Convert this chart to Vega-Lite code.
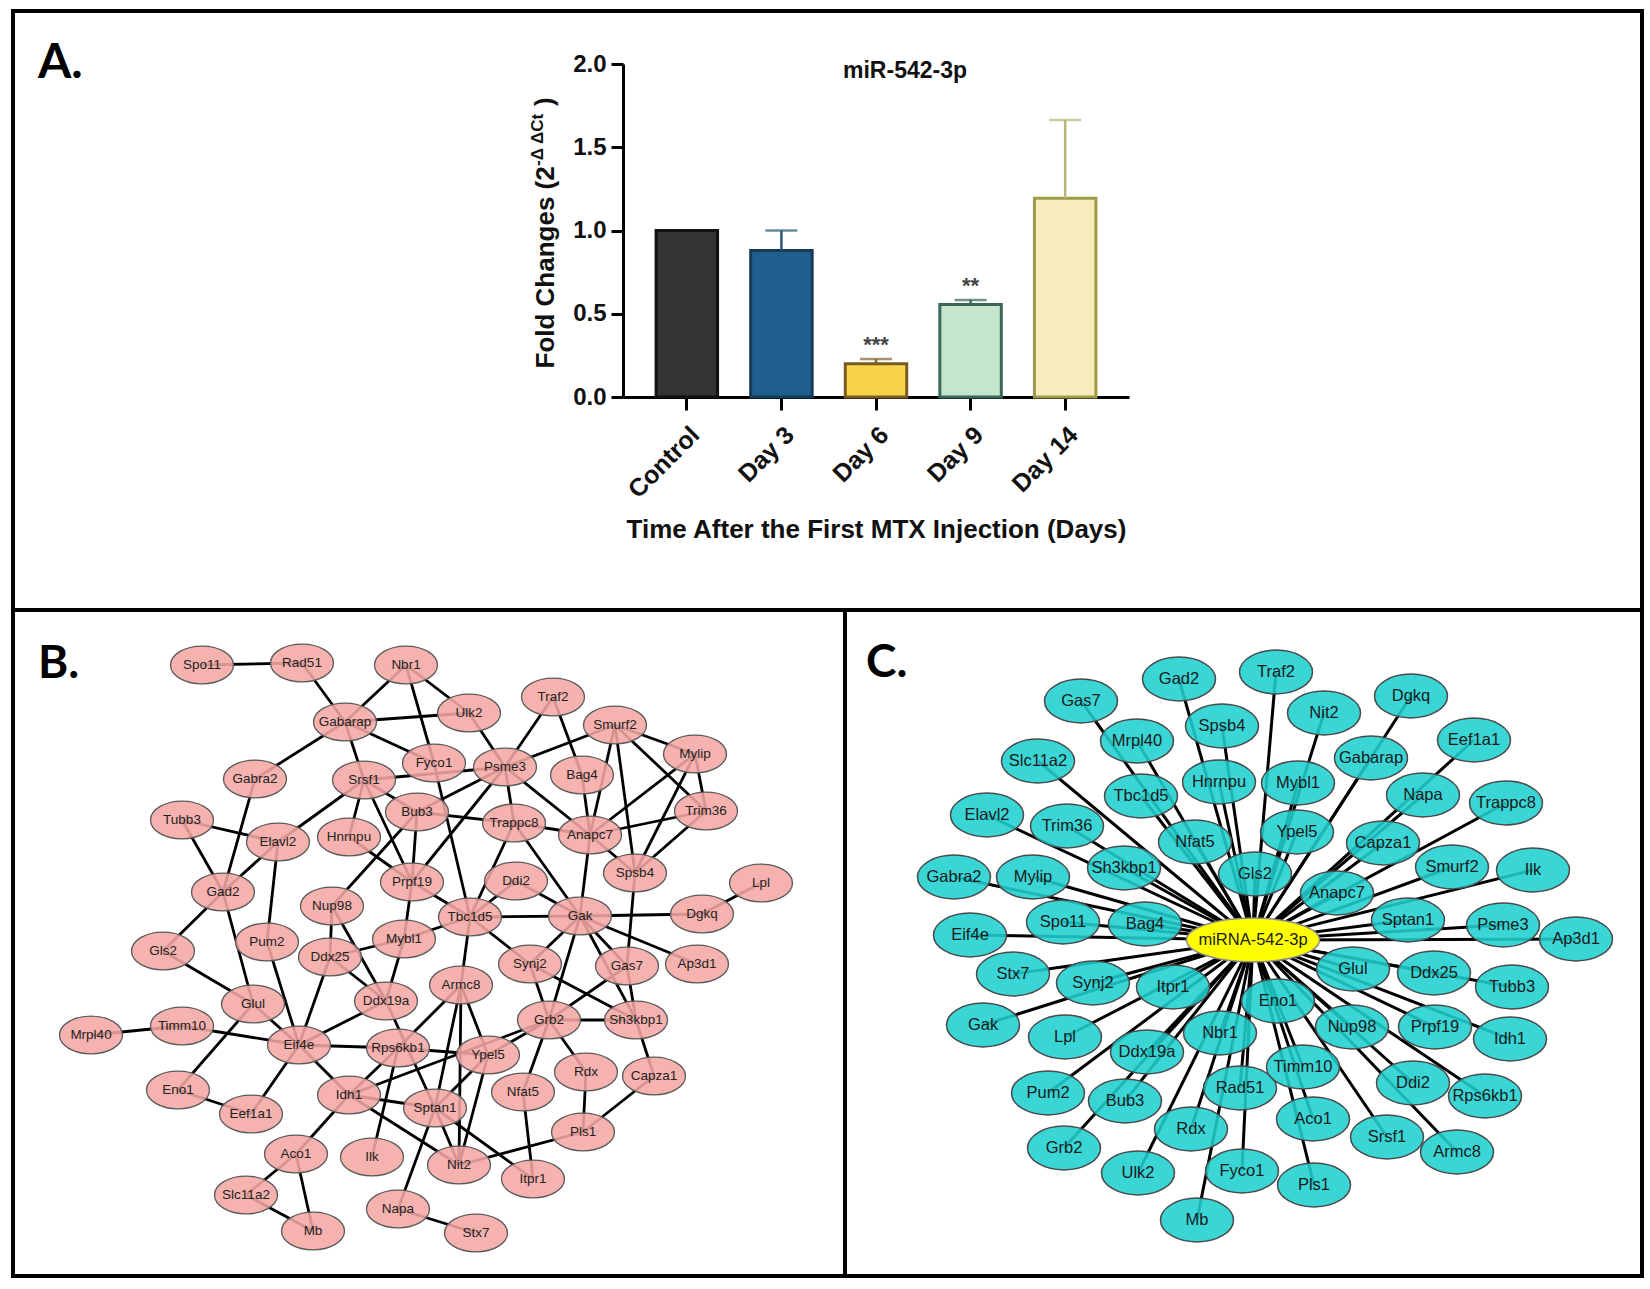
{
  "$schema": "https://vega.github.io/schema/vega-lite/v6.json",
  "width": 1650,
  "height": 1289,
  "autosize": {"type": "none"},
  "padding": 0,
  "background": "white",
  "config": {"view": {"stroke": null}},
  "datasets": {
    "bars": [
      {"group": "Control", "value": 1.0, "upper": null, "stars": ""},
      {"group": "Day 3", "value": 0.88, "upper": 1.0, "stars": ""},
      {"group": "Day 6", "value": 0.2, "upper": 0.228, "stars": "***"},
      {"group": "Day 9", "value": 0.555, "upper": 0.583, "stars": "**"},
      {"group": "Day 14", "value": 1.193, "upper": 1.664, "stars": ""}
    ],
    "nodesB": [
      {"id": "Spo11", "x": 202, "y": 665}, {"id": "Rad51", "x": 302, "y": 663}, {"id": "Nbr1", "x": 406, "y": 665},
      {"id": "Gabarap", "x": 345, "y": 722}, {"id": "Ulk2", "x": 469, "y": 713}, {"id": "Traf2", "x": 553, "y": 697},
      {"id": "Smurf2", "x": 615, "y": 725}, {"id": "Mylip", "x": 695, "y": 754}, {"id": "Gabra2", "x": 255, "y": 779},
      {"id": "Srsf1", "x": 364, "y": 780}, {"id": "Fyco1", "x": 434, "y": 763}, {"id": "Psme3", "x": 505, "y": 767},
      {"id": "Bag4", "x": 582, "y": 775}, {"id": "Trim36", "x": 706, "y": 811}, {"id": "Tubb3", "x": 182, "y": 820},
      {"id": "Elavl2", "x": 278, "y": 842}, {"id": "Hnrnpu", "x": 349, "y": 837}, {"id": "Bub3", "x": 417, "y": 812},
      {"id": "Trappc8", "x": 514, "y": 823}, {"id": "Anapc7", "x": 590, "y": 835}, {"id": "Gad2", "x": 223, "y": 892},
      {"id": "Prpf19", "x": 412, "y": 882}, {"id": "Ddi2", "x": 516, "y": 881}, {"id": "Spsb4", "x": 635, "y": 873},
      {"id": "Lpl", "x": 761, "y": 883}, {"id": "Nup98", "x": 332, "y": 906}, {"id": "Tbc1d5", "x": 470, "y": 917},
      {"id": "Gak", "x": 580, "y": 916}, {"id": "Dgkq", "x": 702, "y": 914}, {"id": "Gls2", "x": 163, "y": 951},
      {"id": "Pum2", "x": 267, "y": 942}, {"id": "Ddx25", "x": 330, "y": 957}, {"id": "Mybl1", "x": 404, "y": 939},
      {"id": "Synj2", "x": 530, "y": 964}, {"id": "Gas7", "x": 627, "y": 966}, {"id": "Ap3d1", "x": 697, "y": 964},
      {"id": "Glul", "x": 253, "y": 1004}, {"id": "Ddx19a", "x": 386, "y": 1001}, {"id": "Armc8", "x": 461, "y": 985},
      {"id": "Grb2", "x": 549, "y": 1020}, {"id": "Sh3kbp1", "x": 636, "y": 1020}, {"id": "Mrpl40", "x": 91, "y": 1035},
      {"id": "Timm10", "x": 182, "y": 1026}, {"id": "Eif4e", "x": 299, "y": 1045}, {"id": "Rps6kb1", "x": 398, "y": 1048},
      {"id": "Ypel5", "x": 488, "y": 1055}, {"id": "Rdx", "x": 586, "y": 1072}, {"id": "Capza1", "x": 654, "y": 1076},
      {"id": "Eno1", "x": 178, "y": 1090}, {"id": "Eef1a1", "x": 251, "y": 1114}, {"id": "Idh1", "x": 349, "y": 1095},
      {"id": "Sptan1", "x": 435, "y": 1108}, {"id": "Nfat5", "x": 523, "y": 1092}, {"id": "Pls1", "x": 583, "y": 1132},
      {"id": "Aco1", "x": 296, "y": 1154}, {"id": "Ilk", "x": 372, "y": 1157}, {"id": "Nit2", "x": 459, "y": 1165},
      {"id": "Itpr1", "x": 533, "y": 1179}, {"id": "Slc11a2", "x": 246, "y": 1195}, {"id": "Mb", "x": 313, "y": 1231},
      {"id": "Napa", "x": 398, "y": 1209}, {"id": "Stx7", "x": 476, "y": 1233}
    ],
    "edgesB": [
      {"s": "Spo11", "t": "Rad51"}, {"s": "Rad51", "t": "Gabarap"}, {"s": "Nbr1", "t": "Gabarap"}, {"s": "Nbr1", "t": "Ulk2"},
      {"s": "Nbr1", "t": "Fyco1"}, {"s": "Gabarap", "t": "Ulk2"}, {"s": "Gabarap", "t": "Fyco1"}, {"s": "Gabarap", "t": "Gabra2"},
      {"s": "Gabarap", "t": "Srsf1"}, {"s": "Srsf1", "t": "Psme3"}, {"s": "Srsf1", "t": "Elavl2"}, {"s": "Srsf1", "t": "Hnrnpu"},
      {"s": "Srsf1", "t": "Bub3"}, {"s": "Srsf1", "t": "Prpf19"}, {"s": "Fyco1", "t": "Tbc1d5"}, {"s": "Ulk2", "t": "Psme3"},
      {"s": "Traf2", "t": "Psme3"}, {"s": "Traf2", "t": "Bag4"}, {"s": "Smurf2", "t": "Psme3"}, {"s": "Smurf2", "t": "Mylip"},
      {"s": "Smurf2", "t": "Trim36"}, {"s": "Smurf2", "t": "Anapc7"}, {"s": "Smurf2", "t": "Spsb4"}, {"s": "Mylip", "t": "Trim36"},
      {"s": "Mylip", "t": "Anapc7"}, {"s": "Mylip", "t": "Spsb4"}, {"s": "Trim36", "t": "Anapc7"}, {"s": "Trim36", "t": "Spsb4"},
      {"s": "Bag4", "t": "Anapc7"}, {"s": "Psme3", "t": "Anapc7"}, {"s": "Psme3", "t": "Trappc8"}, {"s": "Psme3", "t": "Bub3"},
      {"s": "Psme3", "t": "Prpf19"}, {"s": "Bub3", "t": "Trappc8"}, {"s": "Bub3", "t": "Nup98"}, {"s": "Bub3", "t": "Prpf19"},
      {"s": "Trappc8", "t": "Anapc7"}, {"s": "Trappc8", "t": "Tbc1d5"}, {"s": "Trappc8", "t": "Gak"}, {"s": "Anapc7", "t": "Spsb4"},
      {"s": "Anapc7", "t": "Gak"}, {"s": "Spsb4", "t": "Gas7"}, {"s": "Tubb3", "t": "Elavl2"}, {"s": "Tubb3", "t": "Gad2"},
      {"s": "Gabra2", "t": "Gad2"}, {"s": "Elavl2", "t": "Gad2"}, {"s": "Elavl2", "t": "Pum2"}, {"s": "Hnrnpu", "t": "Prpf19"},
      {"s": "Prpf19", "t": "Tbc1d5"}, {"s": "Prpf19", "t": "Mybl1"}, {"s": "Gad2", "t": "Gls2"}, {"s": "Gad2", "t": "Glul"},
      {"s": "Nup98", "t": "Ddx25"}, {"s": "Nup98", "t": "Ddx19a"}, {"s": "Ddx25", "t": "Mybl1"}, {"s": "Ddx25", "t": "Eif4e"},
      {"s": "Ddx25", "t": "Ddx19a"}, {"s": "Mybl1", "t": "Ddx19a"}, {"s": "Mybl1", "t": "Tbc1d5"}, {"s": "Ddi2", "t": "Tbc1d5"},
      {"s": "Ddi2", "t": "Gak"}, {"s": "Tbc1d5", "t": "Gak"}, {"s": "Tbc1d5", "t": "Synj2"}, {"s": "Tbc1d5", "t": "Armc8"},
      {"s": "Gak", "t": "Dgkq"}, {"s": "Gak", "t": "Synj2"}, {"s": "Gak", "t": "Grb2"}, {"s": "Gak", "t": "Gas7"},
      {"s": "Gak", "t": "Sh3kbp1"}, {"s": "Gak", "t": "Ap3d1"}, {"s": "Dgkq", "t": "Lpl"}, {"s": "Synj2", "t": "Grb2"},
      {"s": "Synj2", "t": "Sh3kbp1"}, {"s": "Gas7", "t": "Grb2"}, {"s": "Gas7", "t": "Sh3kbp1"}, {"s": "Grb2", "t": "Sh3kbp1"},
      {"s": "Grb2", "t": "Rdx"}, {"s": "Grb2", "t": "Nfat5"}, {"s": "Grb2", "t": "Ypel5"}, {"s": "Grb2", "t": "Idh1"},
      {"s": "Sh3kbp1", "t": "Capza1"}, {"s": "Capza1", "t": "Pls1"}, {"s": "Rdx", "t": "Pls1"}, {"s": "Pls1", "t": "Nit2"},
      {"s": "Nfat5", "t": "Itpr1"}, {"s": "Gls2", "t": "Glul"}, {"s": "Pum2", "t": "Eif4e"}, {"s": "Glul", "t": "Eif4e"},
      {"s": "Glul", "t": "Eno1"}, {"s": "Timm10", "t": "Mrpl40"}, {"s": "Timm10", "t": "Eif4e"}, {"s": "Eno1", "t": "Eef1a1"},
      {"s": "Eif4e", "t": "Eef1a1"}, {"s": "Eif4e", "t": "Ddx19a"}, {"s": "Eif4e", "t": "Rps6kb1"}, {"s": "Eif4e", "t": "Idh1"},
      {"s": "Ddx19a", "t": "Sptan1"}, {"s": "Idh1", "t": "Rps6kb1"}, {"s": "Idh1", "t": "Sptan1"}, {"s": "Idh1", "t": "Nit2"},
      {"s": "Idh1", "t": "Aco1"}, {"s": "Aco1", "t": "Slc11a2"}, {"s": "Aco1", "t": "Mb"}, {"s": "Slc11a2", "t": "Mb"},
      {"s": "Rps6kb1", "t": "Ilk"}, {"s": "Rps6kb1", "t": "Armc8"}, {"s": "Rps6kb1", "t": "Ypel5"}, {"s": "Armc8", "t": "Sptan1"},
      {"s": "Armc8", "t": "Nit2"}, {"s": "Armc8", "t": "Ypel5"}, {"s": "Ypel5", "t": "Nit2"}, {"s": "Ypel5", "t": "Sptan1"},
      {"s": "Sptan1", "t": "Nit2"}, {"s": "Sptan1", "t": "Itpr1"}, {"s": "Sptan1", "t": "Napa"}, {"s": "Napa", "t": "Stx7"}
    ],
    "nodesC": [
      {"id": "Gad2", "x": 1179, "y": 679}, {"id": "Gas7", "x": 1081, "y": 701}, {"id": "Spsb4", "x": 1222, "y": 726},
      {"id": "Mrpl40", "x": 1137, "y": 741}, {"id": "Slc11a2", "x": 1038, "y": 761}, {"id": "Hnrnpu", "x": 1219, "y": 782},
      {"id": "Tbc1d5", "x": 1141, "y": 796}, {"id": "Elavl2", "x": 987, "y": 815}, {"id": "Trim36", "x": 1067, "y": 826},
      {"id": "Nfat5", "x": 1195, "y": 842}, {"id": "Sh3kbp1", "x": 1124, "y": 868}, {"id": "Gabra2", "x": 954, "y": 877},
      {"id": "Mylip", "x": 1033, "y": 877}, {"id": "Spo11", "x": 1063, "y": 922}, {"id": "Bag4", "x": 1145, "y": 924},
      {"id": "Eif4e", "x": 970, "y": 935}, {"id": "Gls2", "x": 1255, "y": 874}, {"id": "Traf2", "x": 1276, "y": 672},
      {"id": "Dgkq", "x": 1411, "y": 696}, {"id": "Nit2", "x": 1324, "y": 713}, {"id": "Eef1a1", "x": 1474, "y": 740},
      {"id": "Gabarap", "x": 1371, "y": 758}, {"id": "Mybl1", "x": 1298, "y": 783}, {"id": "Napa", "x": 1423, "y": 795},
      {"id": "Trappc8", "x": 1506, "y": 803}, {"id": "Ypel5", "x": 1297, "y": 832}, {"id": "Capza1", "x": 1383, "y": 843},
      {"id": "Smurf2", "x": 1452, "y": 867}, {"id": "Ilk", "x": 1533, "y": 870}, {"id": "Anapc7", "x": 1337, "y": 893},
      {"id": "Sptan1", "x": 1408, "y": 920}, {"id": "Psme3", "x": 1503, "y": 925}, {"id": "Ap3d1", "x": 1576, "y": 939},
      {"id": "Stx7", "x": 1013, "y": 974}, {"id": "Synj2", "x": 1093, "y": 983}, {"id": "Itpr1", "x": 1173, "y": 987},
      {"id": "Gak", "x": 983, "y": 1025}, {"id": "Lpl", "x": 1065, "y": 1037}, {"id": "Nbr1", "x": 1220, "y": 1033},
      {"id": "Ddx19a", "x": 1147, "y": 1052}, {"id": "Pum2", "x": 1048, "y": 1093}, {"id": "Bub3", "x": 1125, "y": 1101},
      {"id": "Rad51", "x": 1240, "y": 1088}, {"id": "Rdx", "x": 1191, "y": 1129}, {"id": "Grb2", "x": 1064, "y": 1148},
      {"id": "Ulk2", "x": 1138, "y": 1173}, {"id": "Fyco1", "x": 1242, "y": 1171}, {"id": "Mb", "x": 1197, "y": 1220},
      {"id": "Glul", "x": 1353, "y": 969}, {"id": "Ddx25", "x": 1434, "y": 973}, {"id": "Tubb3", "x": 1512, "y": 987},
      {"id": "Eno1", "x": 1278, "y": 1001}, {"id": "Nup98", "x": 1352, "y": 1027}, {"id": "Prpf19", "x": 1435, "y": 1027},
      {"id": "Idh1", "x": 1510, "y": 1039}, {"id": "Timm10", "x": 1303, "y": 1067}, {"id": "Ddi2", "x": 1413, "y": 1083},
      {"id": "Rps6kb1", "x": 1485, "y": 1096}, {"id": "Aco1", "x": 1313, "y": 1119}, {"id": "Srsf1", "x": 1387, "y": 1137},
      {"id": "Armc8", "x": 1457, "y": 1152}, {"id": "Pls1", "x": 1314, "y": 1185}
    ],
    "hubC": [{"id": "miRNA-542-3p", "x": 1253, "y": 940}]
  },
  "layer": [
    {
      "layer": [
        {
          "data": {"values": [{}]},
          "mark": {"type": "rect", "fillOpacity": 0, "stroke": "black", "strokeWidth": 4},
          "encoding": {
            "x": {"datum": 13, "type": "quantitative", "scale": {"domain": [0, 1650], "nice": false, "zero": false}, "axis": null},
            "x2": {"datum": 1642},
            "y": {"datum": 11, "type": "quantitative", "scale": {"domain": [0, 1289], "nice": false, "zero": false, "reverse": true}, "axis": null},
            "y2": {"datum": 1276}
          }
        },
        {
          "data": {"values": [{}]},
          "mark": {"type": "rule", "color": "black", "strokeWidth": 4},
          "encoding": {
            "x": {"datum": 13, "type": "quantitative", "scale": {"domain": [0, 1650], "nice": false, "zero": false}, "axis": null},
            "x2": {"datum": 1642},
            "y": {"datum": 610, "type": "quantitative", "scale": {"domain": [0, 1289], "nice": false, "zero": false, "reverse": true}, "axis": null}
          }
        },
        {
          "data": {"values": [{}]},
          "mark": {"type": "rule", "color": "black", "strokeWidth": 4},
          "encoding": {
            "x": {"datum": 845, "type": "quantitative", "scale": {"domain": [0, 1650], "nice": false, "zero": false}, "axis": null},
            "y": {"datum": 610, "type": "quantitative", "scale": {"domain": [0, 1289], "nice": false, "zero": false, "reverse": true}, "axis": null},
            "y2": {"datum": 1276}
          }
        },
        {
          "data": {"name": "edgesB"},
          "transform": [
            {"lookup": "s", "from": {"data": {"name": "nodesB"}, "key": "id", "fields": ["x", "y"]}, "as": ["sx", "sy"]},
            {"lookup": "t", "from": {"data": {"name": "nodesB"}, "key": "id", "fields": ["x", "y"]}, "as": ["tx", "ty"]}
          ],
          "mark": {"type": "rule", "color": "black", "strokeWidth": 2.8},
          "encoding": {
            "x": {"field": "sx", "type": "quantitative", "scale": {"domain": [0, 1650], "nice": false, "zero": false}, "axis": null},
            "y": {"field": "sy", "type": "quantitative", "scale": {"domain": [0, 1289], "nice": false, "zero": false, "reverse": true}, "axis": null},
            "x2": {"field": "tx"},
            "y2": {"field": "ty"}
          }
        },
        {
          "data": {"name": "nodesB"},
          "mark": {"type": "point", "shape": "M-1,0C-1,-0.331,-0.552,-0.6,0,-0.6C0.552,-0.6,1,-0.331,1,0C1,0.331,0.552,0.6,0,0.6C-0.552,0.6,-1,0.331,-1,0Z", "size": 3969, "filled": true, "fill": "#f4a7a4", "fillOpacity": 0.88, "stroke": "#5a5a5a", "strokeWidth": 1.3, "strokeOpacity": 1, "opacity": 1},
          "encoding": {
            "x": {"field": "x", "type": "quantitative", "scale": {"domain": [0, 1650], "nice": false, "zero": false}, "axis": null},
            "y": {"field": "y", "type": "quantitative", "scale": {"domain": [0, 1289], "nice": false, "zero": false, "reverse": true}, "axis": null}
          }
        },
        {
          "data": {"name": "nodesB"},
          "mark": {"type": "text", "font": "Liberation Sans", "fontSize": 13.5, "color": "#222222", "align": "center", "baseline": "middle"},
          "encoding": {
            "x": {"field": "x", "type": "quantitative", "scale": {"domain": [0, 1650], "nice": false, "zero": false}, "axis": null},
            "y": {"field": "y", "type": "quantitative", "scale": {"domain": [0, 1289], "nice": false, "zero": false, "reverse": true}, "axis": null},
            "text": {"field": "id"}
          }
        },
        {
          "data": {"name": "nodesC"},
          "mark": {"type": "rule", "color": "black", "strokeWidth": 3},
          "encoding": {
            "x": {"field": "x", "type": "quantitative", "scale": {"domain": [0, 1650], "nice": false, "zero": false}, "axis": null},
            "y": {"field": "y", "type": "quantitative", "scale": {"domain": [0, 1289], "nice": false, "zero": false, "reverse": true}, "axis": null},
            "x2": {"datum": 1253},
            "y2": {"datum": 940}
          }
        },
        {
          "data": {"name": "nodesC"},
          "mark": {"type": "point", "shape": "M-1,0C-1,-0.331,-0.552,-0.6,0,-0.6C0.552,-0.6,1,-0.331,1,0C1,0.331,0.552,0.6,0,0.6C-0.552,0.6,-1,0.331,-1,0Z", "size": 5329, "filled": true, "fill": "#1fcfcf", "fillOpacity": 0.88, "stroke": "#4a4a4a", "strokeWidth": 1.5, "strokeOpacity": 1, "opacity": 1},
          "encoding": {
            "x": {"field": "x", "type": "quantitative", "scale": {"domain": [0, 1650], "nice": false, "zero": false}, "axis": null},
            "y": {"field": "y", "type": "quantitative", "scale": {"domain": [0, 1289], "nice": false, "zero": false, "reverse": true}, "axis": null}
          }
        },
        {
          "data": {"name": "hubC"},
          "mark": {"type": "point", "shape": "M-1,0C-1,-0.182,-0.552,-0.33,0,-0.33C0.552,-0.33,1,-0.182,1,0C1,0.182,0.552,0.33,0,0.33C-0.552,0.33,-1,0.182,-1,0Z", "size": 17689, "filled": true, "fill": "#ffff00", "fillOpacity": 1, "stroke": "#8a8a8a", "strokeWidth": 1.5, "opacity": 1},
          "encoding": {
            "x": {"field": "x", "type": "quantitative", "scale": {"domain": [0, 1650], "nice": false, "zero": false}, "axis": null},
            "y": {"field": "y", "type": "quantitative", "scale": {"domain": [0, 1289], "nice": false, "zero": false, "reverse": true}, "axis": null}
          }
        },
        {
          "data": {"name": "nodesC"},
          "mark": {"type": "text", "font": "Liberation Sans", "fontSize": 16.5, "color": "#1a1a1a", "align": "center", "baseline": "middle"},
          "encoding": {
            "x": {"field": "x", "type": "quantitative", "scale": {"domain": [0, 1650], "nice": false, "zero": false}, "axis": null},
            "y": {"field": "y", "type": "quantitative", "scale": {"domain": [0, 1289], "nice": false, "zero": false, "reverse": true}, "axis": null},
            "text": {"field": "id"}
          }
        },
        {
          "data": {"name": "hubC"},
          "mark": {"type": "text", "font": "Liberation Sans", "fontSize": 16.5, "color": "#1a1a1a", "align": "center", "baseline": "middle"},
          "encoding": {
            "x": {"field": "x", "type": "quantitative", "scale": {"domain": [0, 1650], "nice": false, "zero": false}, "axis": null},
            "y": {"field": "y", "type": "quantitative", "scale": {"domain": [0, 1289], "nice": false, "zero": false, "reverse": true}, "axis": null},
            "text": {"field": "id"}
          }
        },
        {
          "data": {"values": [{"label": "A."}]},
          "mark": {"type": "text", "font": "Lato", "fontWeight": "bold", "fontSize": 48, "color": "black", "align": "left", "baseline": "alphabetic"},
          "encoding": {
            "x": {"datum": 38, "type": "quantitative", "scale": {"domain": [0, 1650], "nice": false, "zero": false}, "axis": null},
            "y": {"datum": 78, "type": "quantitative", "scale": {"domain": [0, 1289], "nice": false, "zero": false, "reverse": true}, "axis": null},
            "text": {"field": "label"}
          }
        },
        {
          "data": {"values": [{"label": "B."}]},
          "mark": {"type": "text", "font": "Lato", "fontWeight": "bold", "fontSize": 46, "color": "black", "align": "left", "baseline": "alphabetic"},
          "encoding": {
            "x": {"datum": 38, "type": "quantitative", "scale": {"domain": [0, 1650], "nice": false, "zero": false}, "axis": null},
            "y": {"datum": 678, "type": "quantitative", "scale": {"domain": [0, 1289], "nice": false, "zero": false, "reverse": true}, "axis": null},
            "text": {"field": "label"}
          }
        },
        {
          "data": {"values": [{"label": "C."}]},
          "mark": {"type": "text", "font": "Lato", "fontWeight": "bold", "fontSize": 46, "color": "black", "align": "left", "baseline": "alphabetic"},
          "encoding": {
            "x": {"datum": 866, "type": "quantitative", "scale": {"domain": [0, 1650], "nice": false, "zero": false}, "axis": null},
            "y": {"datum": 677, "type": "quantitative", "scale": {"domain": [0, 1289], "nice": false, "zero": false, "reverse": true}, "axis": null},
            "text": {"field": "label"}
          }
        },
        {
          "data": {"values": [{"label": "miR-542-3p"}]},
          "mark": {"type": "text", "font": "Liberation Sans", "fontWeight": "bold", "fontSize": 23, "color": "#111111", "align": "center", "baseline": "alphabetic"},
          "encoding": {
            "x": {"datum": 905, "type": "quantitative", "scale": {"domain": [0, 1650], "nice": false, "zero": false}, "axis": null},
            "y": {"datum": 78, "type": "quantitative", "scale": {"domain": [0, 1289], "nice": false, "zero": false, "reverse": true}, "axis": null},
            "text": {"field": "label"}
          }
        },
        {
          "data": {"values": [{"label": "-Δ ΔCt"}]},
          "mark": {"type": "text", "font": "Liberation Sans", "fontWeight": "bold", "fontSize": 17, "color": "#111111", "align": "left", "baseline": "alphabetic", "angle": 270},
          "encoding": {
            "x": {"datum": 543, "type": "quantitative", "scale": {"domain": [0, 1650], "nice": false, "zero": false}, "axis": null},
            "y": {"datum": 166, "type": "quantitative", "scale": {"domain": [0, 1289], "nice": false, "zero": false, "reverse": true}, "axis": null},
            "text": {"field": "label"}
          }
        },
        {
          "data": {"values": [{"label": ")"}]},
          "mark": {"type": "text", "font": "Liberation Sans", "fontWeight": "bold", "fontSize": 26, "color": "#111111", "align": "left", "baseline": "alphabetic", "angle": 270},
          "encoding": {
            "x": {"datum": 553, "type": "quantitative", "scale": {"domain": [0, 1650], "nice": false, "zero": false}, "axis": null},
            "y": {"datum": 106, "type": "quantitative", "scale": {"domain": [0, 1289], "nice": false, "zero": false, "reverse": true}, "axis": null},
            "text": {"field": "label"}
          }
        }
      ]
    },
    {
      "data": {"name": "bars"},
      "layer": [
        {
          "mark": {"type": "bar", "strokeWidth": 3},
          "encoding": {
            "x": {
              "field": "group", "type": "nominal", "sort": null,
              "scale": {"domain": ["Control", "Day 3", "Day 6", "Day 9", "Day 14"], "range": [623, 1129], "paddingInner": 0.35, "paddingOuter": 0.35},
              "axis": {
                "title": "Time After the First MTX Injection (Days)", "titleFont": "Liberation Sans", "titleFontSize": 26, "titleFontWeight": "bold", "titleColor": "#111111",
                "titleX": 876, "titleY": 140, "titleAlign": "center", "titleBaseline": "alphabetic",
                "labelFont": "Liberation Sans", "labelFontSize": 25, "labelFontWeight": "bold", "labelColor": "#111111", "labelAngle": -45, "labelAlign": "right", "labelBaseline": "top", "labelPadding": 12, "labelOverlap": false,
                "tickSize": 13, "tickWidth": 3, "tickColor": "black", "domainColor": "black", "domainWidth": 3, "offset": -892, "grid": false
              }
            },
            "y": {
              "field": "value", "type": "quantitative",
              "scale": {"domain": [0, 2], "range": [397, 64], "nice": false, "zero": false},
              "axis": {
                "title": "Fold Changes (2", "titleFont": "Liberation Sans", "titleFontSize": 26, "titleFontWeight": "bold", "titleColor": "#111111",
                "titleAngle": 270, "titleX": -70, "titleY": 368, "titleAlign": "left", "titleBaseline": "alphabetic",
                "values": [0, 0.5, 1, 1.5, 2], "format": ".1f",
                "labelFont": "Liberation Sans", "labelFontSize": 24, "labelFontWeight": "bold", "labelColor": "#111111", "labelPadding": 5,
                "tickSize": 12, "tickWidth": 3, "tickColor": "black", "domainColor": "black", "domainWidth": 3, "offset": -623, "grid": false
              }
            },
            "fill": {"field": "group", "type": "nominal", "scale": {"domain": ["Control", "Day 3", "Day 6", "Day 9", "Day 14"], "range": ["#333333", "#1f5f8f", "#f9d24b", "#c6e5cd", "#f6ecbc"]}, "legend": null},
            "stroke": {"field": "group", "type": "nominal", "scale": {"domain": ["Control", "Day 3", "Day 6", "Day 9", "Day 14"], "range": ["#111111", "#153b57", "#7a5a1e", "#3a675c", "#9d9a4a"]}, "legend": null}
          }
        },
        {
          "transform": [{"filter": "datum.upper != null"}],
          "mark": {"type": "rule", "strokeWidth": 2.5},
          "encoding": {
            "x": {"field": "group", "type": "nominal", "sort": null},
            "y": {"field": "value", "type": "quantitative"},
            "y2": {"field": "upper"},
            "color": {"field": "group", "type": "nominal", "scale": {"domain": ["Control", "Day 3", "Day 6", "Day 9", "Day 14"], "range": ["#111111", "#285a78", "#7d6530", "#3a675c", "#b8b574"]}, "legend": null}
          }
        },
        {
          "transform": [{"filter": "datum.upper != null"}],
          "mark": {"type": "tick", "thickness": 2.5, "size": 32, "orient": "horizontal"},
          "encoding": {
            "x": {"field": "group", "type": "nominal", "sort": null},
            "y": {"field": "upper", "type": "quantitative"},
            "color": {"field": "group", "type": "nominal", "scale": {"domain": ["Control", "Day 3", "Day 6", "Day 9", "Day 14"], "range": ["#111111", "#285a78", "#7d6530", "#3a675c", "#b8b574"]}, "legend": null}
          }
        },
        {
          "transform": [{"filter": "datum.stars != ''"}],
          "mark": {"type": "text", "font": "Liberation Sans", "fontSize": 22, "fontWeight": "bold", "color": "#444444", "align": "center", "baseline": "alphabetic", "dy": -7},
          "encoding": {
            "x": {"field": "group", "type": "nominal", "sort": null},
            "y": {"field": "upper", "type": "quantitative"},
            "text": {"field": "stars"}
          }
        }
      ]
    }
  ],
  "resolve": {"scale": {"x": "independent", "y": "independent"}, "axis": {"x": "independent", "y": "independent"}}
}
